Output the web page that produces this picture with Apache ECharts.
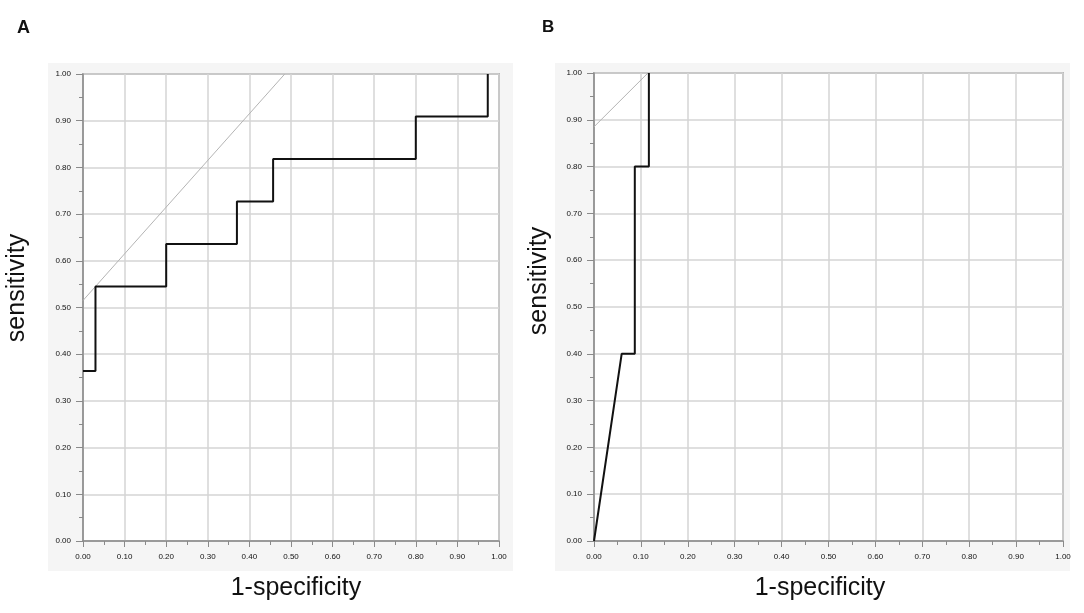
<!DOCTYPE html>
<html>
<head>
<meta charset="utf-8">
<script src="https://cdn.jsdelivr.net/npm/echarts@6/dist/echarts.min.js"></script>
<style>
html,body{margin:0;padding:0;background:#fff;}
#chart{width:1084px;height:613px;}
</style>
</head>
<body>
<div id="chart"></div>
<script>
// Panel A ROC curve (1-specificity, sensitivity)
const rocA_x = [0, 0.03, 0.03, 0.2, 0.2, 0.37, 0.37, 0.457, 0.457, 0.8, 0.8, 0.973, 0.973];
const rocA_y = [0.364, 0.364, 0.545, 0.545, 0.636, 0.636, 0.727, 0.727, 0.818, 0.818, 0.909, 0.909, 1.0];
// Panel A gray reference line
const refA_x = [0, 0.485];
const refA_y = [0.515, 1.0];
// Panel B ROC curve
const rocB_x = [0, 0.059, 0.087, 0.087, 0.117, 0.117];
const rocB_y = [0, 0.4, 0.4, 0.8, 0.8, 1.0];
// Panel B gray reference line
const refB_x = [0, 0.115];
const refB_y = [0.885, 1.0];
// Axis labels
const xName = '1-specificity';
const yName = 'sensitivity';
const panelLabels = ['A', 'B'];

const zip = (xs, ys) => xs.map((x, i) => [x, ys[i]]);
const font = 'Liberation Sans, Arial, Helvetica, sans-serif';
const axisGray = '#8a8a8a';

function xAxis(gi) {
  return {
    gridIndex: gi, type: 'value', min: 0, max: 1, interval: 0.1,
    axisLine: { show: true, onZero: false, lineStyle: { color: axisGray, width: 1.5 } },
    axisTick: { show: true, inside: false, length: 6, lineStyle: { color: axisGray, width: 1 } },
    minorTick: { show: true, splitNumber: 2, length: 4, lineStyle: { color: axisGray, width: 1 } },
    axisLabel: { fontSize: 8, color: '#111', margin: 12, fontFamily: font,
      formatter: v => v.toFixed(2) },
    splitLine: { show: true, lineStyle: { color: '#d4d4d4', width: 1.5 } }
  };
}
function yAxis(gi) {
  return {
    gridIndex: gi, type: 'value', min: 0, max: 1, interval: 0.1,
    axisLine: { show: true, onZero: false, lineStyle: { color: axisGray, width: 1.5 } },
    axisTick: { show: true, inside: false, length: 7, lineStyle: { color: axisGray, width: 1 } },
    minorTick: { show: true, splitNumber: 2, length: 4, lineStyle: { color: axisGray, width: 1 } },
    axisLabel: { fontSize: 8, color: '#111', margin: 12, fontFamily: font,
      formatter: v => v.toFixed(2) },
    splitLine: { show: true, lineStyle: { color: '#d4d4d4', width: 1.5 } }
  };
}

const nameStyle = (t) => ({ text: t, font: '25px ' + font, fill: '#111', textAlign: 'center', textVerticalAlign: 'middle' });

const chart = echarts.init(document.getElementById('chart'), null, { renderer: 'canvas' });
chart.setOption({
  backgroundColor: '#fff',
  animation: false,
  graphic: [
    { type: 'rect', z: -10, shape: { x: 48, y: 63, width: 465, height: 508 }, style: { fill: '#f5f5f5' } },
    { type: 'rect', z: -10, shape: { x: 555, y: 63, width: 515, height: 508 }, style: { fill: '#f5f5f5' } },
    { type: 'text', left: 17, top: 19, style: { text: panelLabels[0], font: 'bold 18px ' + font, fill: '#111' } },
    { type: 'text', left: 542, top: 19, style: { text: panelLabels[1], font: 'bold 17px ' + font, fill: '#111' } },
    { type: 'text', x: 296, y: 588, style: nameStyle(xName) },
    { type: 'text', x: 820, y: 588, style: nameStyle(xName) },
    { type: 'text', x: 17, y: 288, rotation: Math.PI / 2, style: nameStyle(yName) },
    { type: 'text', x: 539, y: 281, rotation: Math.PI / 2, style: nameStyle(yName) }
  ],
  grid: [
    { left: 83, top: 74, right: 585, bottom: 72, show: true, backgroundColor: '#fff', borderColor: axisGray, borderWidth: 1.5 },
    { left: 594, top: 73, right: 21, bottom: 72, show: true, backgroundColor: '#fff', borderColor: axisGray, borderWidth: 1.5 }
  ],
  xAxis: [xAxis(0), xAxis(1)],
  yAxis: [yAxis(0), yAxis(1)],
  series: [
    { type: 'line', xAxisIndex: 0, yAxisIndex: 0, data: zip(refA_x, refA_y), symbol: 'none',
      lineStyle: { color: '#b4b4b4', width: 1 }, z: 3 },
    { type: 'line', xAxisIndex: 0, yAxisIndex: 0, data: zip(rocA_x, rocA_y), symbol: 'none',
      lineStyle: { color: '#111', width: 2 }, z: 4 },
    { type: 'line', xAxisIndex: 1, yAxisIndex: 1, data: zip(refB_x, refB_y), symbol: 'none',
      lineStyle: { color: '#b4b4b4', width: 1 }, z: 3 },
    { type: 'line', xAxisIndex: 1, yAxisIndex: 1, data: zip(rocB_x, rocB_y), symbol: 'none',
      lineStyle: { color: '#111', width: 2 }, z: 4 }
  ]
});
</script>
</body>
</html>
